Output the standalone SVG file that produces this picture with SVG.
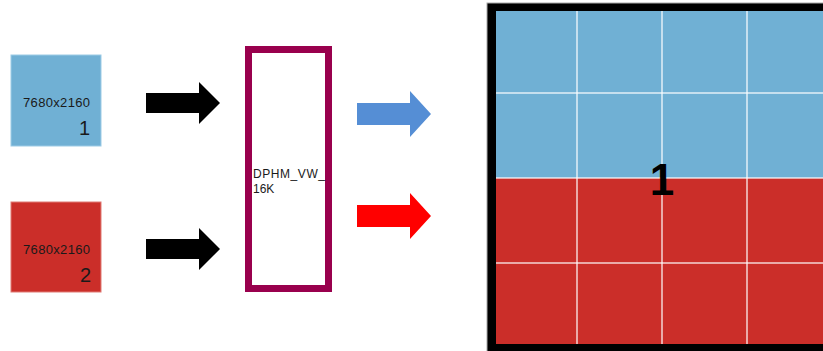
<svg xmlns="http://www.w3.org/2000/svg" width="823" height="351" viewBox="0 0 823 351">
<style>
.lbl{font-family:"Liberation Sans",Arial,sans-serif;fill:#1a1a1a}
.blue{fill:#70b0d4}
.red{fill:#cb2e29}
.grid{stroke:#ffffff;stroke-opacity:0.6;stroke-width:2}
</style>
<defs>
<path id="arrowShape" d="M0,-10 H53 V-21 L74,0 L53,21 V10 H0 Z"/>
</defs>
<rect width="823" height="351" fill="#ffffff"/>
<g id="src1">
<rect class="blue" x="11" y="55" width="90" height="91" stroke="#9ccbe6" stroke-width="1"/>
<text class="lbl" x="23" y="107" font-size="13" textLength="67">7680x2160</text>
<text class="lbl" x="90" y="135" font-size="20" text-anchor="end">1</text>
</g>
<g id="src2">
<rect class="red" x="11" y="202" width="90" height="90" stroke="#e07a75" stroke-width="1"/>
<text class="lbl" x="23" y="254" font-size="13" textLength="67">7680x2160</text>
<text class="lbl" x="91" y="282" font-size="20" text-anchor="end">2</text>
</g>
<g id="dphm">
<rect x="248.5" y="49.5" width="80" height="239" fill="#ffffff" stroke="#99004d" stroke-width="7"/>
<text class="lbl" x="253" y="178" font-size="12" textLength="72">DPHM_VW_</text>
<text class="lbl" x="253" y="193" font-size="12">16K</text>
</g>
<g id="wall">
<rect x="487" y="3" width="340" height="350" fill="#000000" stroke="#aaaaaa" stroke-width="1"/>
<rect class="blue" x="496" y="11" width="330" height="167"/>
<rect class="red" x="496" y="178" width="330" height="166"/>
<line class="grid" x1="496" y1="93" x2="823" y2="93"/>
<line class="grid" x1="496" y1="178" x2="823" y2="178" stroke-opacity="0.35"/>
<line class="grid" x1="496" y1="263" x2="823" y2="263" stroke-opacity="0.45"/>
<line class="grid" x1="577" y1="11" x2="577" y2="344"/>
<line class="grid" x1="662" y1="11" x2="662" y2="344"/>
<line class="grid" x1="747" y1="11" x2="747" y2="344"/>
<text x="662" y="195" font-size="44" font-weight="bold" text-anchor="middle" font-family="'Liberation Sans',Arial,sans-serif" fill="#000000">1</text>
</g>
<g id="connectors">
<use href="#arrowShape" transform="translate(146,103)" fill="#000000"/>
<use href="#arrowShape" transform="translate(146,249)" fill="#000000"/>
<use href="#arrowShape" transform="translate(357,114) scale(1,1.1)" fill="#558ed5"/>
<use href="#arrowShape" transform="translate(357,216) scale(1,1.1)" fill="#ff0000"/>
</g>
</svg>
